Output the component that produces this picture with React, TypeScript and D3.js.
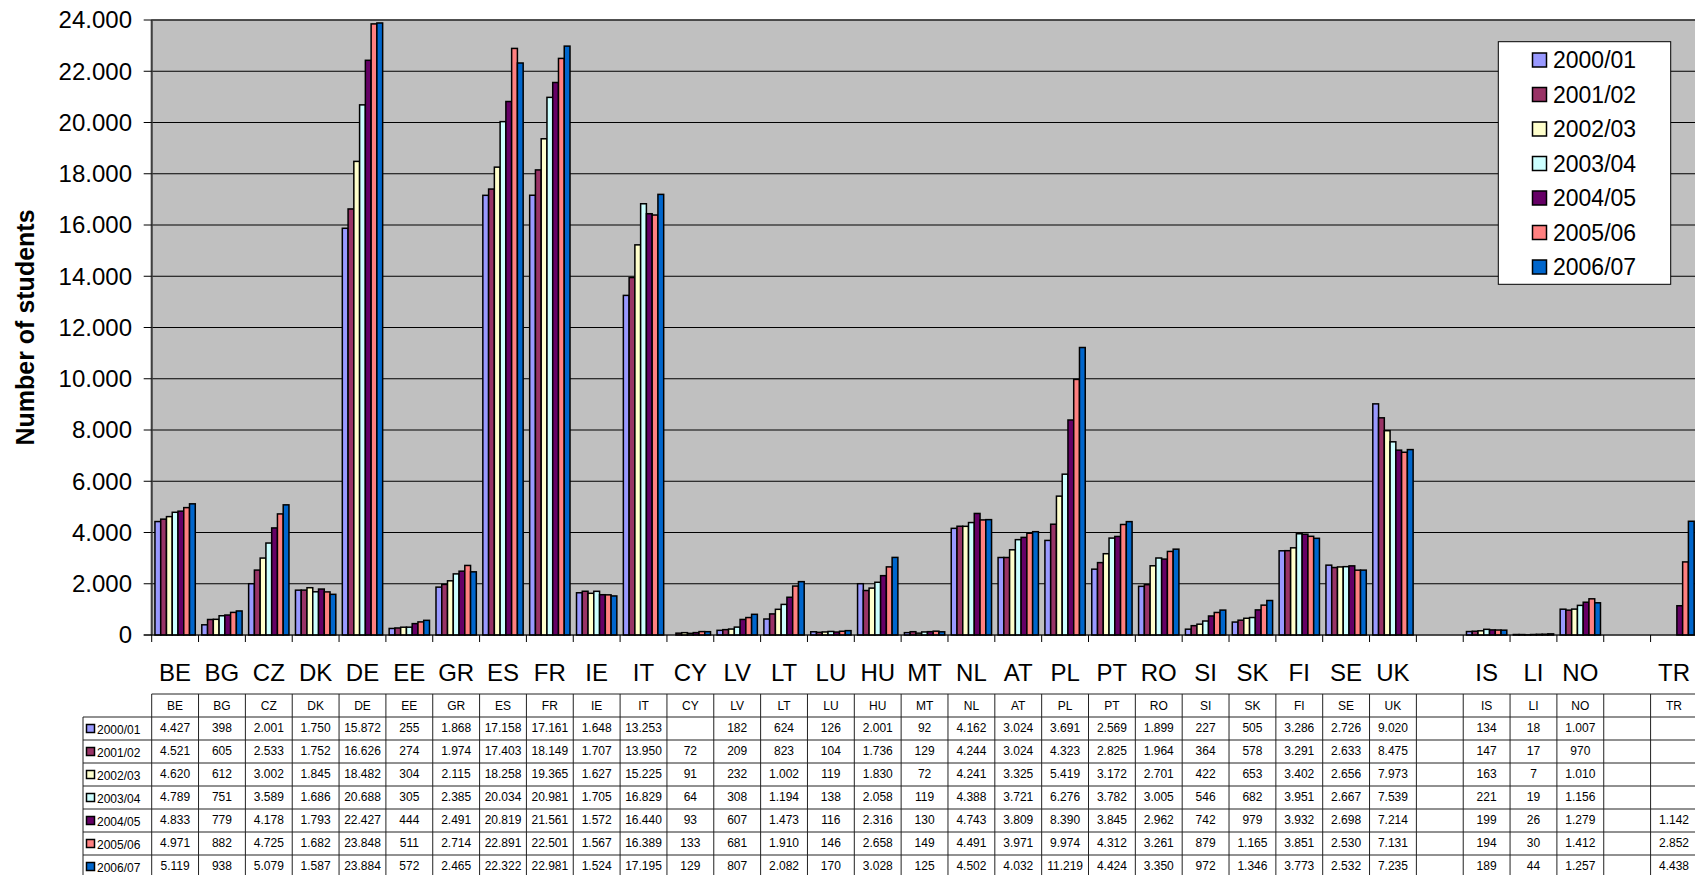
import React from "react";
import { scaleBand, scaleLinear, range, format } from "d3";

const categories = [
  "BE", "BG", "CZ", "DK", "DE", "EE", "GR", "ES", "FR", "IE", "IT", "CY", "LV", "LT",
  "LU", "HU", "MT", "NL", "AT", "PL", "PT", "RO", "SI", "SK", "FI", "SE", "UK", "",
  "IS", "LI", "NO", "", "TR",
];

const seriesNames = ["2000/01", "2001/02", "2002/03", "2003/04", "2004/05", "2005/06", "2006/07"];
const seriesColors = ["#9999FF", "#993366", "#FFFFCC", "#CCFFFF", "#660066", "#FF8080", "#0066CC"];

const s2000 = [4427, 398, 2001, 1750, 15872, 255, 1868, 17158, 17161, 1648, 13253, null, 182, 624, 126, 2001, 92, 4162, 3024, 3691, 2569, 1899, 227, 505, 3286, 2726, 9020, null, 134, 18, 1007, null, null];
const s2001 = [4521, 605, 2533, 1752, 16626, 274, 1974, 17403, 18149, 1707, 13950, 72, 209, 823, 104, 1736, 129, 4244, 3024, 4323, 2825, 1964, 364, 578, 3291, 2633, 8475, null, 147, 17, 970, null, null];
const s2002 = [4620, 612, 3002, 1845, 18482, 304, 2115, 18258, 19365, 1627, 15225, 91, 232, 1002, 119, 1830, 72, 4241, 3325, 5419, 3172, 2701, 422, 653, 3402, 2656, 7973, null, 163, 7, 1010, null, null];
const s2003 = [4789, 751, 3589, 1686, 20688, 305, 2385, 20034, 20981, 1705, 16829, 64, 308, 1194, 138, 2058, 119, 4388, 3721, 6276, 3782, 3005, 546, 682, 3951, 2667, 7539, null, 221, 19, 1156, null, null];
const s2004 = [4833, 779, 4178, 1793, 22427, 444, 2491, 20819, 21561, 1572, 16440, 93, 607, 1473, 116, 2316, 130, 4743, 3809, 8390, 3845, 2962, 742, 979, 3932, 2698, 7214, null, 199, 26, 1279, null, 1142];
const s2005 = [4971, 882, 4725, 1682, 23848, 511, 2714, 22891, 22501, 1567, 16389, 133, 681, 1910, 146, 2658, 149, 4491, 3971, 9974, 4312, 3261, 879, 1165, 3851, 2530, 7131, null, 194, 30, 1412, null, 2852];
const s2006 = [5119, 938, 5079, 1587, 23884, 572, 2465, 22322, 22981, 1524, 17195, 129, 807, 2082, 170, 3028, 125, 4502, 4032, 11219, 4424, 3350, 972, 1346, 3773, 2532, 7235, null, 189, 44, 1257, null, 4438];

const seriesValues = [s2000, s2001, s2002, s2003, s2004, s2005, s2006];

const yTicks = range(0, 24001, 2000);

const FONT = "'Liberation Sans', Arial, sans-serif";
const fmt = (v) => format(",")(v).replace(/,/g, ".");

export default function App() {
  const width = 1695;
  const height = 875;
  const left = 151.7;
  const top = 20;
  const bottom = 635;
  const catW = 46.84;
  const right = left + catW * categories.length;

  const x = scaleBand()
    .domain(range(categories.length))
    .range([left, right])
    .padding(0);
  const xs = scaleBand()
    .domain(range(seriesNames.length))
    .range([0, catW])
    .paddingInner(0)
    .paddingOuter(0.565);
  const y = scaleLinear().domain([0, 24000]).range([bottom, top]);

  const tableTop = 694;
  const rowH = 23;
  const legendColLeft = 83;

  return (
    <svg
      width={width}
      height={height}
      style={{ position: "fixed", left: 0, top: 0, background: "#fff" }}
      fontFamily={FONT}
    >
      {/* plot area */}
      <rect x={left} y={top} width={right - left} height={bottom - top} fill="#C0C0C0" stroke="#808080" strokeWidth={1.5} />
      {yTicks.filter((t) => t > 0).map((t) => (
        <line key={t} x1={left} x2={right} y1={y(t)} y2={y(t)} stroke="#000" strokeWidth={1} />
      ))}

      {/* bars */}
      {seriesValues.map((vals, si) =>
        vals.map((v, ci) =>
          v == null ? null : (
            <rect
              key={`${si}-${ci}`}
              x={x(ci) + xs(si)}
              y={y(v)}
              width={xs.bandwidth()}
              height={bottom - y(v)}
              fill={seriesColors[si]}
              stroke="#000"
              strokeWidth={1.5}
            />
          )
        )
      )}

      {/* axes */}
      <line x1={left} x2={left} y1={top} y2={bottom} stroke="#404040" strokeWidth={2} />
      <line x1={left - 8} x2={right} y1={bottom} y2={bottom} stroke="#000" strokeWidth={1} />
      {yTicks.map((t) => (
        <g key={t}>
          <line x1={left - 8} x2={left} y1={y(t)} y2={y(t)} stroke="#000" />
          <text x={132} y={y(t)} dy="0.35em" textAnchor="end" fontSize={24} fill="#000">
            {fmt(t)}
          </text>
        </g>
      ))}
      {range(categories.length + 1).map((i) => (
        <line key={i} x1={left + i * catW} x2={left + i * catW} y1={bottom} y2={bottom + 7} stroke="#000" />
      ))}
      {categories.map((c, i) => (
        <text key={i} x={x(i) + catW / 2} y={681} textAnchor="middle" fontSize={24} fill="#000">
          {c}
        </text>
      ))}
      <text
        transform={`translate(34, ${(top + bottom) / 2}) rotate(-90)`}
        textAnchor="middle"
        fontSize={25}
        fontWeight="bold"
        fill="#000"
      >
        Number of students
      </text>

      {/* data table */}
      <g stroke="#222" strokeWidth={1}>
        <line x1={left} x2={right} y1={tableTop} y2={tableTop} />
        {range(seriesNames.length + 1).map((r) => (
          <line
            key={r}
            x1={legendColLeft}
            x2={right}
            y1={tableTop + rowH * (r + 1)}
            y2={tableTop + rowH * (r + 1)}
          />
        ))}
        <line x1={legendColLeft} x2={legendColLeft} y1={tableTop + rowH} y2={height} />
        {range(categories.length + 1).map((i) => (
          <line key={i} x1={left + i * catW} x2={left + i * catW} y1={tableTop} y2={height} />
        ))}
      </g>
      {categories.map((c, i) => (
        <text key={i} x={x(i) + catW / 2} y={tableTop + 15.5} textAnchor="middle" fontSize={12} fill="#000">
          {c}
        </text>
      ))}
      {seriesNames.map((s, si) => {
        const rowY = tableTop + rowH * (si + 1);
        return (
          <g key={s}>
            <rect x={legendColLeft + 3.5} y={rowY + 7.5} width={8} height={8} fill={seriesColors[si]} stroke="#000" strokeWidth={1.5} />
            <text x={legendColLeft + 14} y={rowY + 17} fontSize={12} fill="#000">
              {s}
            </text>
            {seriesValues[si].map((v, ci) =>
              v == null ? null : (
                <text key={ci} x={x(ci) + catW / 2} y={rowY + 15} textAnchor="middle" fontSize={12} fill="#000">
                  {fmt(v)}
                </text>
              )
            )}
          </g>
        );
      })}

      {/* legend */}
      <rect x={1498.3} y={41.7} width={172.4} height={242.6} fill="#fff" stroke="#000" strokeWidth={1} />
      {seriesNames.map((s, si) => {
        const cy = 60 + si * 34.5;
        return (
          <g key={s}>
            <rect x={1532.5} y={cy - 7} width={14} height={14} fill={seriesColors[si]} stroke="#000" strokeWidth={1.5} />
            <text x={1553} y={cy} dy="0.35em" fontSize={23} fill="#000">
              {s}
            </text>
          </g>
        );
      })}
    </svg>
  );
}
